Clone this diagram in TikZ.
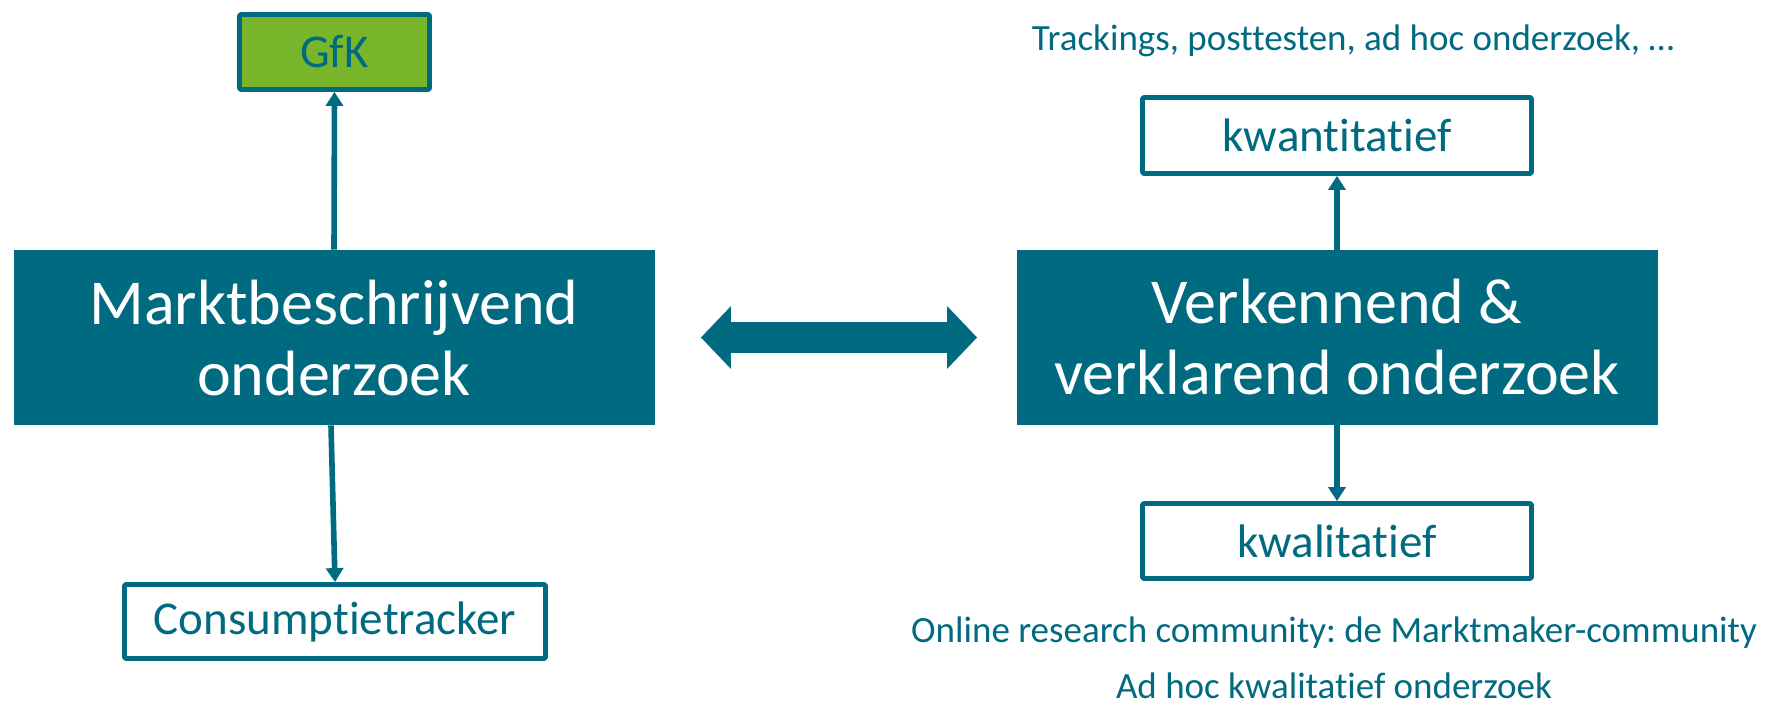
\documentclass[tikz,border=0pt]{standalone}
\usepackage{fontspec}
\setmainfont{Carlito}[Ligatures={NoCommon,NoRare}]
\usetikzlibrary{arrows.meta}
\definecolor{tealc}{HTML}{006A80}
\definecolor{greenc}{HTML}{78B52B}
\frenchspacing
\begin{document}
\begin{tikzpicture}[x=0.5pt,y=-0.5pt,
  mainbox/.style={fill=tealc, text=white, minimum width=320.5pt, minimum height=87.5pt, inner sep=0pt, font=\fontsize{32}{35.5}\selectfont, align=center},
  subbox/.style={draw=tealc, line width=2.4pt, fill=white, text=tealc, inner sep=0pt, font=\fontsize{23.5}{28}\selectfont, line join=round, rounded corners=0.6pt},
  note/.style={text=tealc, font=\fontsize{18.5}{22}\selectfont, inner sep=0pt},
  conn/.style={draw=tealc, line width=2.8pt, -{Triangle[length=7pt,width=8.5pt]}},
  dbl/.style={draw=tealc, line width=15.5pt, {Triangle[length=15pt,width=30.5pt]}-{Triangle[length=15pt,width=30.5pt]}}
]
\useasboundingbox (0,0) rectangle (1768,703);
\node[mainbox] (markt) at (334,337.5) {Marktbeschrijvend\\onderzoek};
\node[mainbox] (verk) at (1337,337.5) {Verkennend \&\\verklarend onderzoek};
\node[subbox, fill=greenc, minimum width=95pt, minimum height=37.5pt] (gfk) at (334.5,52) {GfK};
\node[subbox, minimum width=210.5pt, minimum height=37pt] (cons) at (335,621.5) {Consumptietracker};
\node[subbox, minimum width=194.5pt, minimum height=38pt] (kwant) at (1337,135.5) {kwantitatief};
\node[subbox, minimum width=194.5pt, minimum height=37.5pt] (kwal) at (1337,541) {kwalitatief};
\node[note] (track) at (1353,41) {Trackings, posttesten, ad hoc onderzoek, …};
\node[note] (online) at (1334,633) {Online research community: de Marktmaker-community};
\node[note] (adhoc) at (1334,686) {Ad hoc kwalitatief onderzoek};
\draw[conn] (markt.north) -- (gfk.south);
\draw[conn] ([xshift=-1.5pt]markt.south) -- (cons.north);
\draw[conn] (verk.north) -- (kwant.south);
\draw[conn] (verk.south) -- (kwal.north);
\draw[dbl, shorten <=23pt, shorten >=19.5pt] (markt.east) -- (verk.west);
\end{tikzpicture}
\end{document}
